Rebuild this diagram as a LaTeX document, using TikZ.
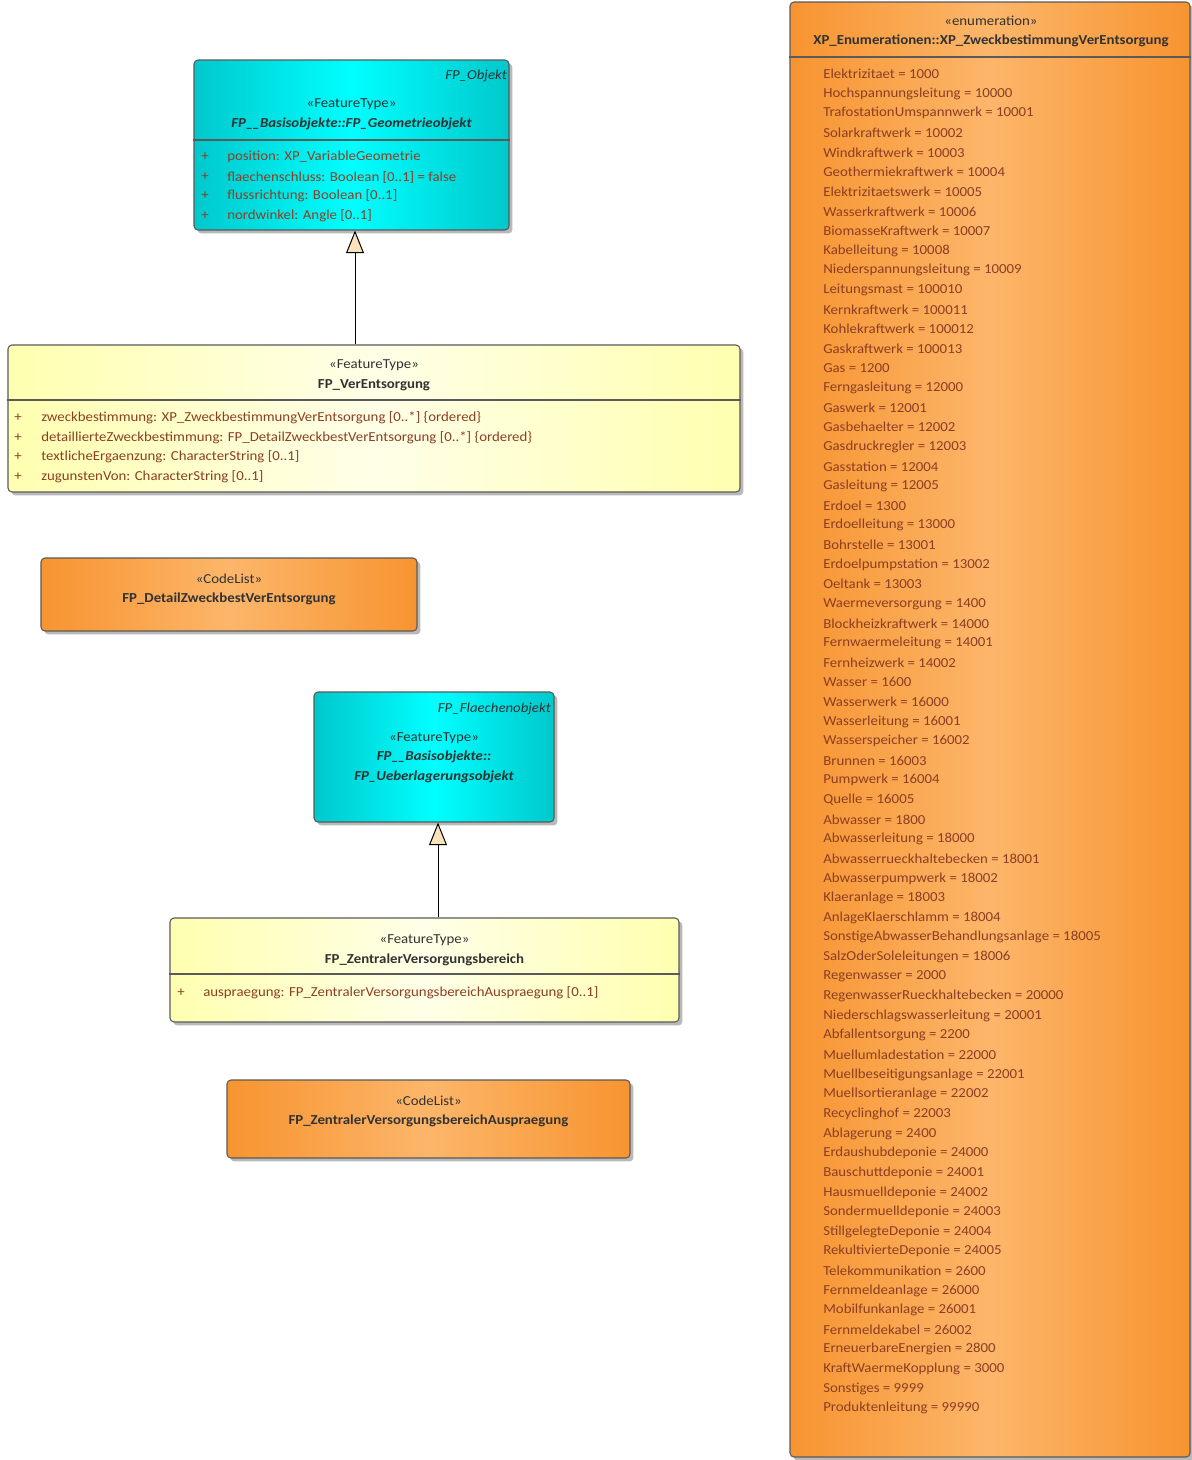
\documentclass[tikz,border=0pt]{standalone}
\usepackage{fontspec}
\setmainfont{Carlito}[FakeStretch=1.08]
\usetikzlibrary{arrows.meta,shadows}
\definecolor{cyanE}{RGB}{0,200,204}
\definecolor{cyanM}{RGB}{0,255,255}
\definecolor{yelE}{RGB}{255,255,176}
\definecolor{yelM}{RGB}{255,255,232}
\definecolor{orE}{RGB}{247,148,48}
\definecolor{orM}{RGB}{252,182,106}
\definecolor{attr}{RGB}{140,62,36}
\definecolor{hdr}{RGB}{50,50,50}
\definecolor{frame}{RGB}{90,90,90}
\definecolor{tipfill}{RGB}{252,226,186}
\newcommand{\dus}{\_\kern-0.6pt\_}
\tikzset{
  cls/.style={draw=frame, line width=0.8pt, rounded corners=3pt, inner sep=0pt,
    drop shadow={shadow xshift=2.6pt, shadow yshift=-2.6pt, opacity=0.55}},
  cyanbox/.style={cls, left color=cyanE, right color=cyanE, middle color=cyanM},
  yelbox/.style={cls, left color=yelE, right color=yelE, middle color=yelM},
  orbox/.style={cls, left color=orE, right color=orE, middle color=orM},
  sz/.style 2 args={minimum width=#1*0.75pt, minimum height=#2*0.75pt},
  txt/.style={inner sep=0pt, font=\fontsize{10.3}{12}\selectfont},
  st/.style={txt, text=hdr},
  nm/.style={txt, text=hdr, font=\fontsize{10.3}{12}\selectfont\bfseries},
  nmi/.style={txt, text=hdr, font=\fontsize{10.3}{12}\selectfont\bfseries\itshape},
  par/.style={txt, text=hdr, anchor=east, font=\fontsize{10.3}{12}\selectfont\itshape},
  att/.style={txt, text=attr, anchor=west},
  sep/.style={draw=frame, line width=0.8pt},
  gen/.style={draw=black, line width=0.75pt, -{Triangle[length=17pt,width=13.5pt,fill=tipfill]}}
}
\begin{document}
\begin{tikzpicture}[x=0.75pt,y=-0.75pt]
\useasboundingbox[fill=white] (0,0) rectangle (1192,1460);

% FP_Geometrieobjekt
\node[cyanbox, sz={315}{170}] (geo) at (351.5,145) {};
\node[par] (geoP) at (507,76) {FP\_Objekt};
\node[st] (geoS) at (351.5,104) {«FeatureType»};
\node[nmi] (geoN) at (351.5,124) {FP\dus Basisobjekte::FP\_Geometrieobjekt};
\draw[sep] (geo.west |- 0,140) -- (geo.east |- 0,140);
\node[att] (geoA1p) at (201,157) {+};
\node[att] (geoA1) at (227,157) {position: XP\_VariableGeometrie};
\node[att] (geoA2p) at (201,177) {+};
\node[att] (geoA2) at (227,177) {flaechenschluss: Boolean [0..1] = false};
\node[att] (geoA3p) at (201,196) {+};
\node[att] (geoA3) at (227,196) {flussrichtung: Boolean [0..1]};
\node[att] (geoA4p) at (201,216) {+};
\node[att] (geoA4) at (227,216) {nordwinkel: Angle [0..1]};

% FP_VerEntsorgung
\node[yelbox, sz={732}{147}] (ver) at (374,418.5) {};
\node[st] (verS) at (374,365) {«FeatureType»};
\node[nm] (verN) at (374,385) {FP\_VerEntsorgung};
\draw[sep] (ver.west |- 0,400) -- (ver.east |- 0,400);
\node[att] (verA1p) at (14,418) {+};
\node[att] (verA1) at (41,418) {zweckbestimmung: XP\_ZweckbestimmungVerEntsorgung [0..*] \{ordered\}};
\node[att] (verA2p) at (14,438) {+};
\node[att] (verA2) at (41,438) {detaillierteZweckbestimmung: FP\_DetailZweckbestVerEntsorgung [0..*] \{ordered\}};
\node[att] (verA3p) at (14,457) {+};
\node[att] (verA3) at (41,457) {textlicheErgaenzung: CharacterString [0..1]};
\node[att] (verA4p) at (14,477) {+};
\node[att] (verA4) at (41,477) {zugunstenVon: CharacterString [0..1]};

\draw[gen] (ver.north -| 355,0) -- (geo.south -| 355,0);

% CodeList FP_DetailZweckbestVerEntsorgung
\node[orbox, sz={376}{73}] (det) at (229,594.5) {};
\node[st] (detS) at (229,579) {«CodeList»};
\node[nm] (detN) at (229,599) {FP\_DetailZweckbestVerEntsorgung};

% FP_Ueberlagerungsobjekt
\node[cyanbox, sz={240}{130}] (ueb) at (434,757) {};
\node[par] (uebP) at (551,709) {FP\_Flaechenobjekt};
\node[st] (uebS) at (434,738) {«FeatureType»};
\node[nmi] (uebN1) at (434,757) {FP\dus Basisobjekte::};
\node[nmi] (uebN2) at (434,777) {FP\_Ueberlagerungsobjekt};

% FP_ZentralerVersorgungsbereich
\node[yelbox, sz={509}{104}] (zen) at (424.5,970) {};
\node[st] (zenS) at (424.5,940) {«FeatureType»};
\node[nm] (zenN) at (424.5,960) {FP\_ZentralerVersorgungsbereich};
\draw[sep] (zen.west |- 0,974) -- (zen.east |- 0,974);
\node[att] (zenA1p) at (177,993) {+};
\node[att] (zenA1) at (203,993) {auspraegung: FP\_ZentralerVersorgungsbereichAuspraegung [0..1]};

\draw[gen] (zen.north -| 438,0) -- (ueb.south -| 438,0);

% CodeList FP_ZentralerVersorgungsbereichAuspraegung
\node[orbox, sz={403}{78}] (aus) at (428.5,1119) {};
\node[st] (ausS) at (428.5,1101) {«CodeList»};
\node[nm] (ausN) at (428.5,1121) {FP\_ZentralerVersorgungsbereichAuspraegung};

% Enumeration
\node[orbox, sz={400}{1455}] (enu) at (990,729.5) {};
\node[st] (enuS) at (991,21) {«enumeration»};
\node[nm] (enuN) at (991,41) {XP\_Enumerationen::XP\_ZweckbestimmungVerEntsorgung};
\draw[sep] (enu.west |- 0,57) -- (enu.east |- 0,57);
\foreach \t [count=\i from 0] in {
Elektrizitaet = 1000, Hochspannungsleitung = 10000, TrafostationUmspannwerk = 10001,
Solarkraftwerk = 10002, Windkraftwerk = 10003, Geothermiekraftwerk = 10004,
Elektrizitaetswerk = 10005, Wasserkraftwerk = 10006, BiomasseKraftwerk = 10007,
Kabelleitung = 10008, Niederspannungsleitung = 10009, Leitungsmast = 100010,
Kernkraftwerk = 100011, Kohlekraftwerk = 100012, Gaskraftwerk = 100013,
Gas = 1200, Ferngasleitung = 12000, Gaswerk = 12001, Gasbehaelter = 12002,
Gasdruckregler = 12003, Gasstation = 12004, Gasleitung = 12005, Erdoel = 1300,
Erdoelleitung = 13000, Bohrstelle = 13001, Erdoelpumpstation = 13002,
Oeltank = 13003, Waermeversorgung = 1400, Blockheizkraftwerk = 14000,
Fernwaermeleitung = 14001, Fernheizwerk = 14002, Wasser = 1600,
Wasserwerk = 16000, Wasserleitung = 16001, Wasserspeicher = 16002,
Brunnen = 16003, Pumpwerk = 16004, Quelle = 16005, Abwasser = 1800,
Abwasserleitung = 18000, Abwasserrueckhaltebecken = 18001,
Abwasserpumpwerk = 18002, Klaeranlage = 18003, AnlageKlaerschlamm = 18004,
SonstigeAbwasserBehandlungsanlage = 18005, SalzOderSoleleitungen = 18006,
Regenwasser = 2000, RegenwasserRueckhaltebecken = 20000,
Niederschlagswasserleitung = 20001, Abfallentsorgung = 2200,
Muellumladestation = 22000, Muellbeseitigungsanlage = 22001,
Muellsortieranlage = 22002, Recyclinghof = 22003, Ablagerung = 2400,
Erdaushubdeponie = 24000, Bauschuttdeponie = 24001, Hausmuelldeponie = 24002,
Sondermuelldeponie = 24003, StillgelegteDeponie = 24004,
RekultivierteDeponie = 24005, Telekommunikation = 2600,
Fernmeldeanlage = 26000, Mobilfunkanlage = 26001, Fernmeldekabel = 26002,
ErneuerbareEnergien = 2800, KraftWaermeKopplung = 3000, Sonstiges = 9999,
Produktenleitung = 99990}
  \node[att, name=e\i] at (823,74+\i*19.62) {\t};
\end{tikzpicture}
\end{document}
